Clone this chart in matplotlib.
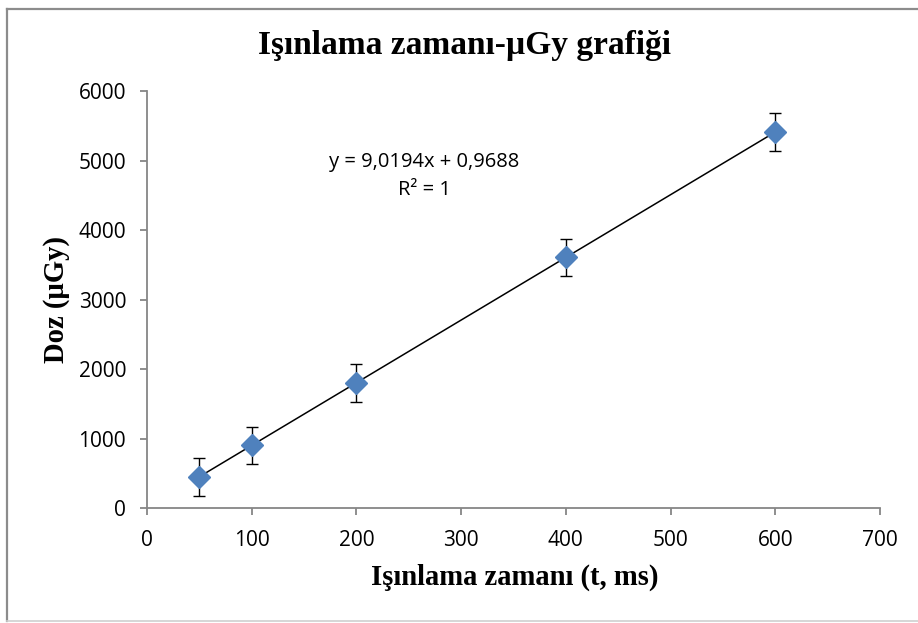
import numpy as np
import matplotlib.pyplot as plt
from matplotlib.lines import Line2D

# irradiation time (ms) vs measured dose (uGy)
zaman = [50, 100, 200, 400, 600]
doz = [452, 903, 1805, 3609, 5413]
hata = [270, 270, 270, 270, 270]

# linear trendline coefficients
egim = 9.0194
kesim = 0.9688

xticks = [0, 100, 200, 300, 400, 500, 600, 700]
yticks = [0, 1000, 2000, 3000, 4000, 5000, 6000]

serif = 'Liberation Serif'
sans = 'Open Sans'
gri = '#868686'

fig = plt.figure(figsize=(9.18, 6.23), dpi=100)
ax = fig.add_axes([0.1601, 0.1843, 0.7985, 0.6693])

ax.errorbar(zaman, doz, yerr=hata, fmt='none', ecolor='black',
            elinewidth=1.0, capsize=4, capthick=1.0, zorder=2)

xf = np.array([min(zaman), max(zaman)])
ax.plot(xf, egim * xf + kesim, color='black', lw=1.1, zorder=3)

ax.plot(zaman, doz, linestyle='none', marker='D', ms=11,
        color='#4F81BD', mec='#4F81BD', zorder=4)

ax.set_xlim(0, 700)
ax.set_ylim(0, 6000)
ax.set_xticks(xticks)
ax.set_yticks(yticks)

for s in ['top', 'right']:
    ax.spines[s].set_visible(False)
for s in ['left', 'bottom']:
    ax.spines[s].set_color(gri)
    ax.spines[s].set_linewidth(1.3)
ax.tick_params(direction='out', length=5, width=1.3, color=gri,
               labelsize=15)
ax.tick_params(axis='y', pad=10)
ax.tick_params(axis='x', pad=11)
for lb in ax.get_xticklabels() + ax.get_yticklabels():
    lb.set_fontfamily(sans)

ax.text(265, 4986, 'y = 9,0194x + 0,9688', ha='center', va='center',
        fontsize=14.5, family=sans)
ax.text(265, 4576, 'R² = 1', ha='center', va='center',
        fontsize=14.5, family=sans)

fig.text(0.506, 0.927, 'Işınlama zamanı-µGy grafiği', ha='center',
         va='center', fontsize=24, fontweight='bold', family=serif)
fig.text(0.561, 0.074, 'Işınlama zamanı (t, ms)', ha='center',
         va='center', fontsize=20.6, fontweight='bold', family=serif)
fig.text(0.0616, 0.519, 'Doz (µGy)', ha='center', va='center',
         rotation=90, fontsize=20.6, fontweight='bold', family=serif)

# chart area border
fig.add_artist(Line2D([7 / 918, 7 / 918], [2 / 623, 614 / 623],
                      color='#8c8c8c', lw=1.6, transform=fig.transFigure))
fig.add_artist(Line2D([7 / 918, 1], [614 / 623, 614 / 623],
                      color='#8c8c8c', lw=1.6, transform=fig.transFigure))
fig.add_artist(Line2D([7 / 918, 1], [2 / 623, 2 / 623],
                      color='#d0d0d0', lw=1.2, transform=fig.transFigure))

fig.savefig('out.png', dpi=100)
